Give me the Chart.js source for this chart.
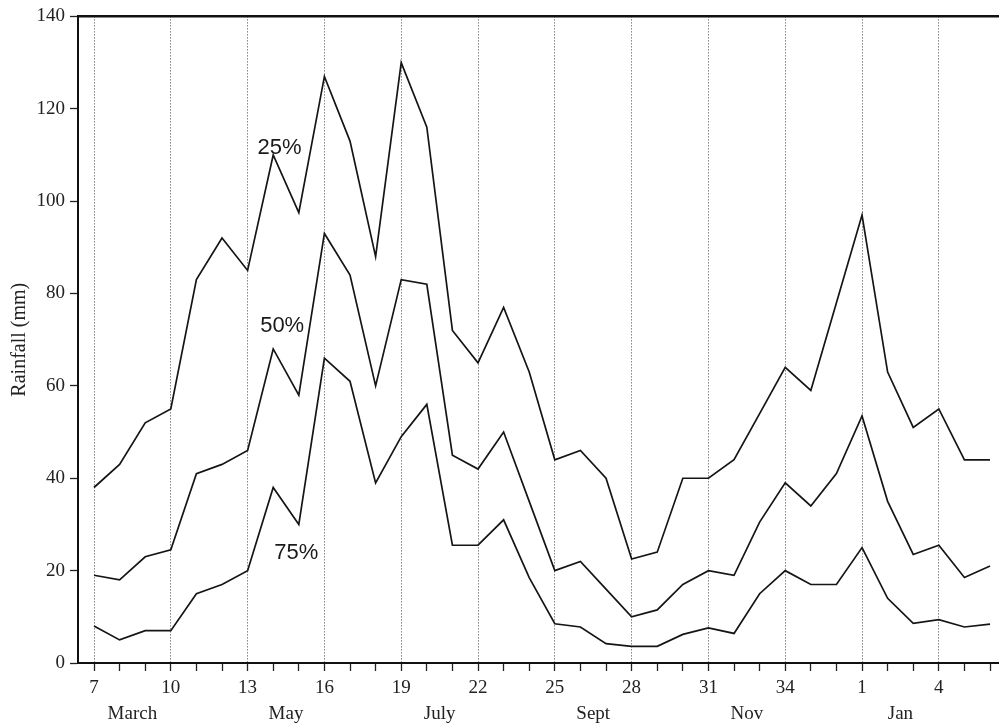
<!DOCTYPE html>
<html>
<head>
<meta charset="utf-8">
<script src="https://cdn.jsdelivr.net/npm/chart.js@4/dist/chart.umd.min.js"></script>
<style>
  html, body { margin: 0; padding: 0; background: #fff; }
  #wrap { width: 999px; height: 726px; }
</style>
</head>
<body>
<div id="wrap"><canvas id="chart"></canvas></div>
<script>
// week numbers along the x axis (March through the following February)
const weeks = ['7','8','9','10','11','12','13','14','15','16','17','18','19','20','21','22','23','24','25','26',
               '27','28','29','30','31','32','33','34','35','36','1','2','3','4','5','6'];

// rainfall (mm) at the 25%, 50% and 75% probability levels
const p25 = [38, 43, 52, 55, 83, 92, 85, 110, 97.5, 127, 113, 88, 130, 116, 72, 65, 77, 63, 44, 46,
             40, 22.5, 24, 40, 40, 44, 54, 64, 59, 78, 97, 63, 51, 55, 44, 44];
const p50 = [19, 18, 23, 24.5, 41, 43, 46, 68, 58, 93, 84, 60, 83, 82, 45, 42, 50, 35, 20, 22,
             16, 10, 11.5, 17, 20, 19, 30.5, 39, 34, 41, 53.5, 35, 23.5, 25.5, 18.5, 21];
const p75 = [8, 5, 7, 7, 15, 17, 20, 38, 30, 66, 61, 39, 49, 56, 25.5, 25.5, 31, 18.5, 8.5, 7.8,
             4.2, 3.6, 3.6, 6.2, 7.6, 6.4, 15, 20, 17, 17, 25, 14, 8.6, 9.4, 7.8, 8.4];

const seriesNames = ['25%', '50%', '75%'];
const months = ['March', 'May', 'July', 'Sept', 'Nov', 'Jan'];
const monthAt = [1.5, 7.5, 13.5, 19.5, 25.5, 31.5];   // index position of each month label
const yTicks = [0, 20, 40, 60, 80, 100, 120, 140];

const toPoints = arr => arr.map((v, i) => ({x: i, y: v}));

const serif = "'Liberation Serif', 'DejaVu Serif', serif";

// write the percentage labels next to their curves
const curveLabels = {
  id: 'curveLabels',
  afterDatasetsDraw(chart) {
    const {ctx, scales: {x, y}} = chart;
    const spots = [[7.25, 111.5], [7.35, 73], [7.9, 23.8]];
    ctx.save();
    ctx.font = "22px 'Liberation Sans', Arial, sans-serif";
    ctx.fillStyle = '#1a1a1a';
    ctx.textAlign = 'center';
    ctx.textBaseline = 'middle';
    seriesNames.forEach((name, i) => {
      ctx.fillText(name, x.getPixelForValue(spots[i][0]), y.getPixelForValue(spots[i][1]));
    });
    ctx.restore();
  }
};

const lineStyle = {
  borderColor: '#151515',
  borderWidth: 1.7,
  pointRadius: 0,
  tension: 0,
  fill: false
};

const config = {
  type: 'line',
  data: {
    datasets: [
      Object.assign({label: seriesNames[0], data: toPoints(p25)}, lineStyle),
      Object.assign({label: seriesNames[1], data: toPoints(p50)}, lineStyle),
      Object.assign({label: seriesNames[2], data: toPoints(p75)}, lineStyle)
    ]
  },
  options: {
    responsive: true,
    maintainAspectRatio: false,
    animation: false,
    layout: {padding: 0},
    plugins: {
      legend: {display: false},
      tooltip: {enabled: false}
    },
    scales: {
      x: {
        type: 'linear',
        position: 'bottom',
        weight: 0,
        min: -0.625,
        max: 35.35,
        afterFit: s => { s.height = 35; },
        ticks: {
          stepSize: 1,
          autoSkip: false,
          includeBounds: false,
          maxRotation: 0,
          padding: 6,
          color: '#222',
          font: {family: serif, size: 19},
          callback: v => (Number.isInteger(v) && v % 3 === 0) ? weeks[v] : ''
        },
        grid: {
          drawOnChartArea: true,
          drawTicks: true,
          tickLength: 8,
          lineWidth: 1,
          color: c => (c.tick && c.tick.value % 3 === 0) ? '#444' : 'rgba(0,0,0,0)',
          tickColor: '#222',
          tickWidth: 1.3
        },
        border: {display: true, color: '#111', width: 2, dash: [1, 2]}
      },
      months: {
        type: 'linear',
        position: 'bottom',
        weight: 1,
        min: -0.625,
        max: 35.35,
        afterFit: s => { s.height = 28; },
        afterBuildTicks: s => { s.ticks = monthAt.map(v => ({value: v})); },
        ticks: {
          autoSkip: false,
          maxRotation: 0,
          padding: 5,
          color: '#222',
          font: {family: serif, size: 19},
          callback: (v, i) => months[i]
        },
        grid: {display: false, drawTicks: false},
        border: {display: false}
      },
      top: {
        type: 'linear',
        position: 'top',
        min: 0,
        max: 1,
        afterFit: s => { s.height = 15; },
        ticks: {display: false},
        grid: {drawOnChartArea: false, drawTicks: false},
        border: {display: true, color: '#111', width: 2.5}
      },
      y: {
        min: 0,
        max: 140,
        afterFit: s => { s.width = 78; },
        afterBuildTicks: s => { s.ticks = yTicks.map(v => ({value: v})); },
        ticks: {
          padding: 5,
          color: '#222',
          font: {family: serif, size: 19}
        },
        grid: {
          drawOnChartArea: false,
          drawTicks: true,
          tickLength: 8,
          tickColor: '#222',
          tickWidth: 1.3
        },
        border: {display: true, color: '#111', width: 2},
        title: {
          display: true,
          text: 'Rainfall (mm)',
          color: '#222',
          font: {family: serif, size: 20},
          padding: {top: 8, bottom: 0}
        }
      }
    }
  },
  plugins: [curveLabels]
};

const chart = new Chart(document.getElementById('chart'), config);
</script>
</body>
</html>
